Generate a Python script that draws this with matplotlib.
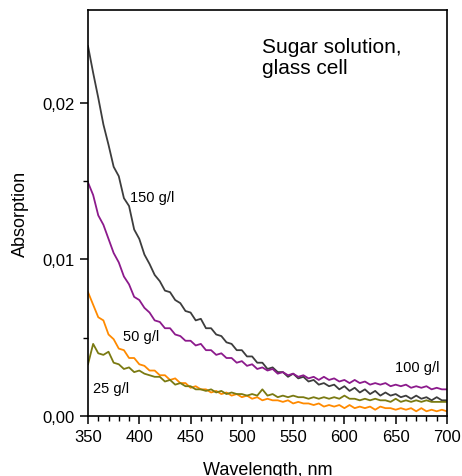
import numpy as np
import matplotlib
matplotlib.use("Agg")
import matplotlib.pyplot as plt
from matplotlib.ticker import MultipleLocator, FixedLocator, FuncFormatter

plt.rcParams['font.family'] = ['Liberation Sans', 'DejaVu Sans']

# wavelength grid, nm
wavelength = np.arange(350, 701, 5)

# absorption in units of 1e-4
abs_150 = [236, 219, 203, 186, 173, 159, 153, 139, 134, 119, 113, 103, 97, 90, 86, 80,
           79, 74, 72, 67, 66, 61, 62, 56, 56, 52, 51, 47, 46, 42, 42, 38, 38, 34, 34, 30,
           31, 28, 28, 25, 27, 24, 25, 22, 23, 20, 21, 19, 20, 17, 19, 16, 18, 15, 17, 14,
           16, 13, 15, 13, 14, 12, 13, 11, 13, 11, 12, 10, 12, 10, 10]
abs_100 = [149, 141, 128, 122, 113, 104, 98, 89, 84, 76, 74, 69, 66, 61, 60, 56,
           56, 52, 51, 48, 48, 45, 46, 42, 42, 39, 40, 37, 37, 34, 35, 32, 33, 30, 31, 29,
           30, 27, 28, 26, 27, 25, 26, 24, 25, 23, 25, 23, 24, 22, 23, 21, 23, 21, 22, 20,
           21, 20, 21, 19, 20, 19, 20, 18, 19, 18, 19, 17, 18, 17, 17]
abs_50 = [79, 71, 63, 61, 52, 49, 43, 42, 37, 37, 33, 32, 29, 29, 26, 26,
          23, 24, 21, 21, 18, 19, 17, 17, 15, 16, 14, 15, 13, 14, 12, 13, 11, 12, 10, 11,
          10, 10, 9, 10, 8, 9, 8, 8, 7, 8, 6, 7, 6, 7, 5, 7, 5, 6, 5, 6,
          4, 6, 5, 5, 4, 5, 4, 5, 3, 5, 3, 4, 3, 4, 3]
abs_25 = [33, 46, 40, 39, 41, 34, 33, 30, 31, 28, 29, 27, 26, 25, 25, 22,
          23, 20, 21, 19, 19, 17, 17, 16, 17, 15, 16, 14, 15, 14, 14, 13, 14, 13, 17, 13,
          14, 12, 13, 12, 13, 12, 12, 11, 12, 11, 12, 11, 12, 11, 13, 11, 11, 10, 11, 10,
          11, 10, 10, 9, 11, 9, 10, 9, 10, 9, 10, 9, 9, 9, 9]

fig = plt.figure(figsize=(4.62, 4.77), dpi=100)
ax = fig.add_axes([0.1905, 0.1258, 0.777, 0.851])

ax.plot(wavelength, np.array(abs_150) * 1e-4, color="#3d3d3d", lw=1.3)
ax.plot(wavelength, np.array(abs_100) * 1e-4, color="#8c1a8c", lw=1.3)
ax.plot(wavelength, np.array(abs_50) * 1e-4, color="#ff8a00", lw=1.3)
ax.plot(wavelength, np.array(abs_25) * 1e-4, color="#7a7a12", lw=1.3)

ax.text(391, 0.0140, "150 g/l", fontsize=10.5, va="center")
ax.text(649, 0.0031, "100 g/l", fontsize=10.5, va="center")
ax.text(384, 0.0051, "50 g/l", fontsize=10.5, va="center")
ax.text(355, 0.0018, "25 g/l", fontsize=10.5, va="center")
ax.text(520, 0.0229, "Sugar solution,\nglass cell", fontsize=15, va="center",
        linespacing=1.1)

ax.set_xlim(350, 700)
ax.set_ylim(0, 0.0259)
ax.xaxis.set_major_locator(MultipleLocator(50))
ax.xaxis.set_minor_locator(MultipleLocator(10))
ax.yaxis.set_major_locator(MultipleLocator(0.01))
ax.yaxis.set_minor_locator(FixedLocator([0.005, 0.015]))
ax.yaxis.set_major_formatter(FuncFormatter(lambda v, p: f"{v:.2f}".replace(".", ",")))

ax.tick_params(which="major", direction="out", length=6, width=1.1, labelsize=12)
ax.tick_params(which="minor", direction="out", length=3.5, width=1.0)
for sp in ax.spines.values():
    sp.set_linewidth(1.2)

ax.set_xlabel("Wavelength, nm", fontsize=13, labelpad=12)
ax.set_ylabel("Absorption", fontsize=13, labelpad=10)

fig.savefig("out.png", dpi=100)
